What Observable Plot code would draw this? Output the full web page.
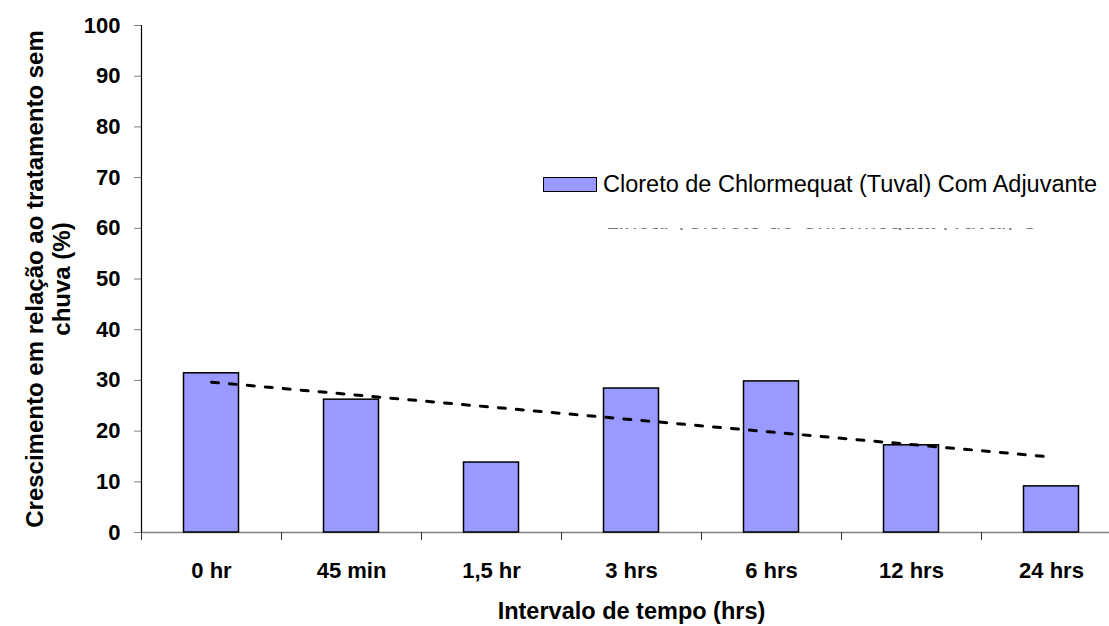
<!DOCTYPE html>
<html><head><meta charset="utf-8">
<script src="https://cdn.jsdelivr.net/npm/d3@7"></script>
<script src="https://cdn.jsdelivr.net/npm/@observablehq/plot@0.6"></script>
<style>
body{margin:0;background:#fff;}
#wrap{position:relative;width:1109px;height:626px;overflow:hidden;font-family:"Liberation Sans",Arial,sans-serif;background:#fff;}
#wrap svg{position:absolute;left:0;top:0;}
.leg{position:absolute;display:flex;align-items:center;white-space:nowrap;}
.sw{width:52px;height:13px;background:#9999ff;border:1.5px solid #000;margin-right:6px;}
.legtxt{font-size:23.5px;color:#000;}
#leg2{position:absolute;left:606px;top:228px;width:430px;height:2px;overflow:hidden;}
#leg2 span{position:absolute;left:0;top:-20px;font-size:23.5px;color:#777;white-space:nowrap;}
</style></head><body>
<div id="wrap"></div>
<script>
const categories = ["0 hr", "45 min", "1,5 hr", "3 hrs", "6 hrs", "12 hrs", "24 hrs"];
const values = [31.4, 26.2, 13.8, 28.4, 29.8, 17.2, 9.1];
const yTicks = [0, 10, 20, 30, 40, 50, 60, 70, 80, 90, 100];
const seriesName = "Cloreto de Chlormequat (Tuval) Com Adjuvante";
const trendName = "Linear (Cloreto de Chlormequat (Tuval) Com Adjuvante)";
const xTitle = "Intervalo de tempo (hrs)";
const yTitle = "Crescimento em relação ao tratamento sem\nchuva (%)";

const data = categories.map((c, i) => ({cat: c, value: values[i], idx: i}));
// linear trend line (least squares over category index)
const n = values.length, xm = (n - 1) / 2, ym = d3.mean(values);
const slope = d3.sum(values, (v, i) => (i - xm) * (v - ym)) / d3.sum(values, (v, i) => (i - xm) ** 2);
const trend = data.map(d => ({cat: d.cat, value: ym + slope * (d.idx - xm)}));

const font = "Liberation Sans, Arial, sans-serif";
const chart = Plot.plot({
  width: 1109, height: 626,
  marginLeft: 141, marginTop: 25, marginBottom: 94, marginRight: -12,
  style: {fontFamily: font, background: "white", overflow: "visible"},
  x: {domain: categories, padding: 0, axis: null},
  y: {domain: [0, 100], axis: null},
  marks: [
    Plot.axisY({ticks: yTicks, tickSize: 7, tickPadding: 14, fontSize: 22, fontWeight: "bold", label: null, stroke: "#808080", fill: "black"}),
    Plot.ruleY([0], {stroke: "#808080", strokeWidth: 1.5}),
    Plot.ruleX(categories, {x: d => d, dx: -70, y1: 0, y2: -1.6, stroke: "#333"}),
    Plot.frame({anchor: "left", stroke: "black", strokeWidth: 1.2}),
    Plot.barY(data, {x: "cat", y: "value", fill: "#9999ff", stroke: "black", strokeWidth: 1.5, insetLeft: 42.5, insetRight: 42.5}),
    Plot.line(trend, {x: "cat", y: "value", stroke: "black", strokeWidth: 3, strokeDasharray: "7,11"}),
    Plot.text(categories, {x: d => d, frameAnchor: "bottom", lineAnchor: "middle", dy: 38, fontSize: 22, fontWeight: "bold", fill: "black"}),
    Plot.text([xTitle], {frameAnchor: "bottom", lineAnchor: "middle", textAnchor: "middle", dy: 79, fontSize: 23.5, fontWeight: "bold", fill: "black"}),
    Plot.text([yTitle], {frameAnchor: "left", textAnchor: "middle", lineAnchor: "middle", rotate: -90, dx: -94, lineHeight: 1.12, fontSize: 24, fontWeight: "bold", fill: "black"})
  ]
});
const wrap = document.getElementById("wrap");
wrap.appendChild(chart);

const leg = document.createElement("div");
leg.className = "leg";
leg.style.left = "543px"; leg.style.top = "171px";
leg.innerHTML = `<div class="sw"></div><span class="legtxt"></span>`;
leg.querySelector(".legtxt").textContent = seriesName;
wrap.appendChild(leg);

const leg2 = document.createElement("div");
leg2.id = "leg2";
const s2 = document.createElement("span");
s2.textContent = trendName;
leg2.appendChild(s2);
wrap.appendChild(leg2);
</script>
</body></html>
